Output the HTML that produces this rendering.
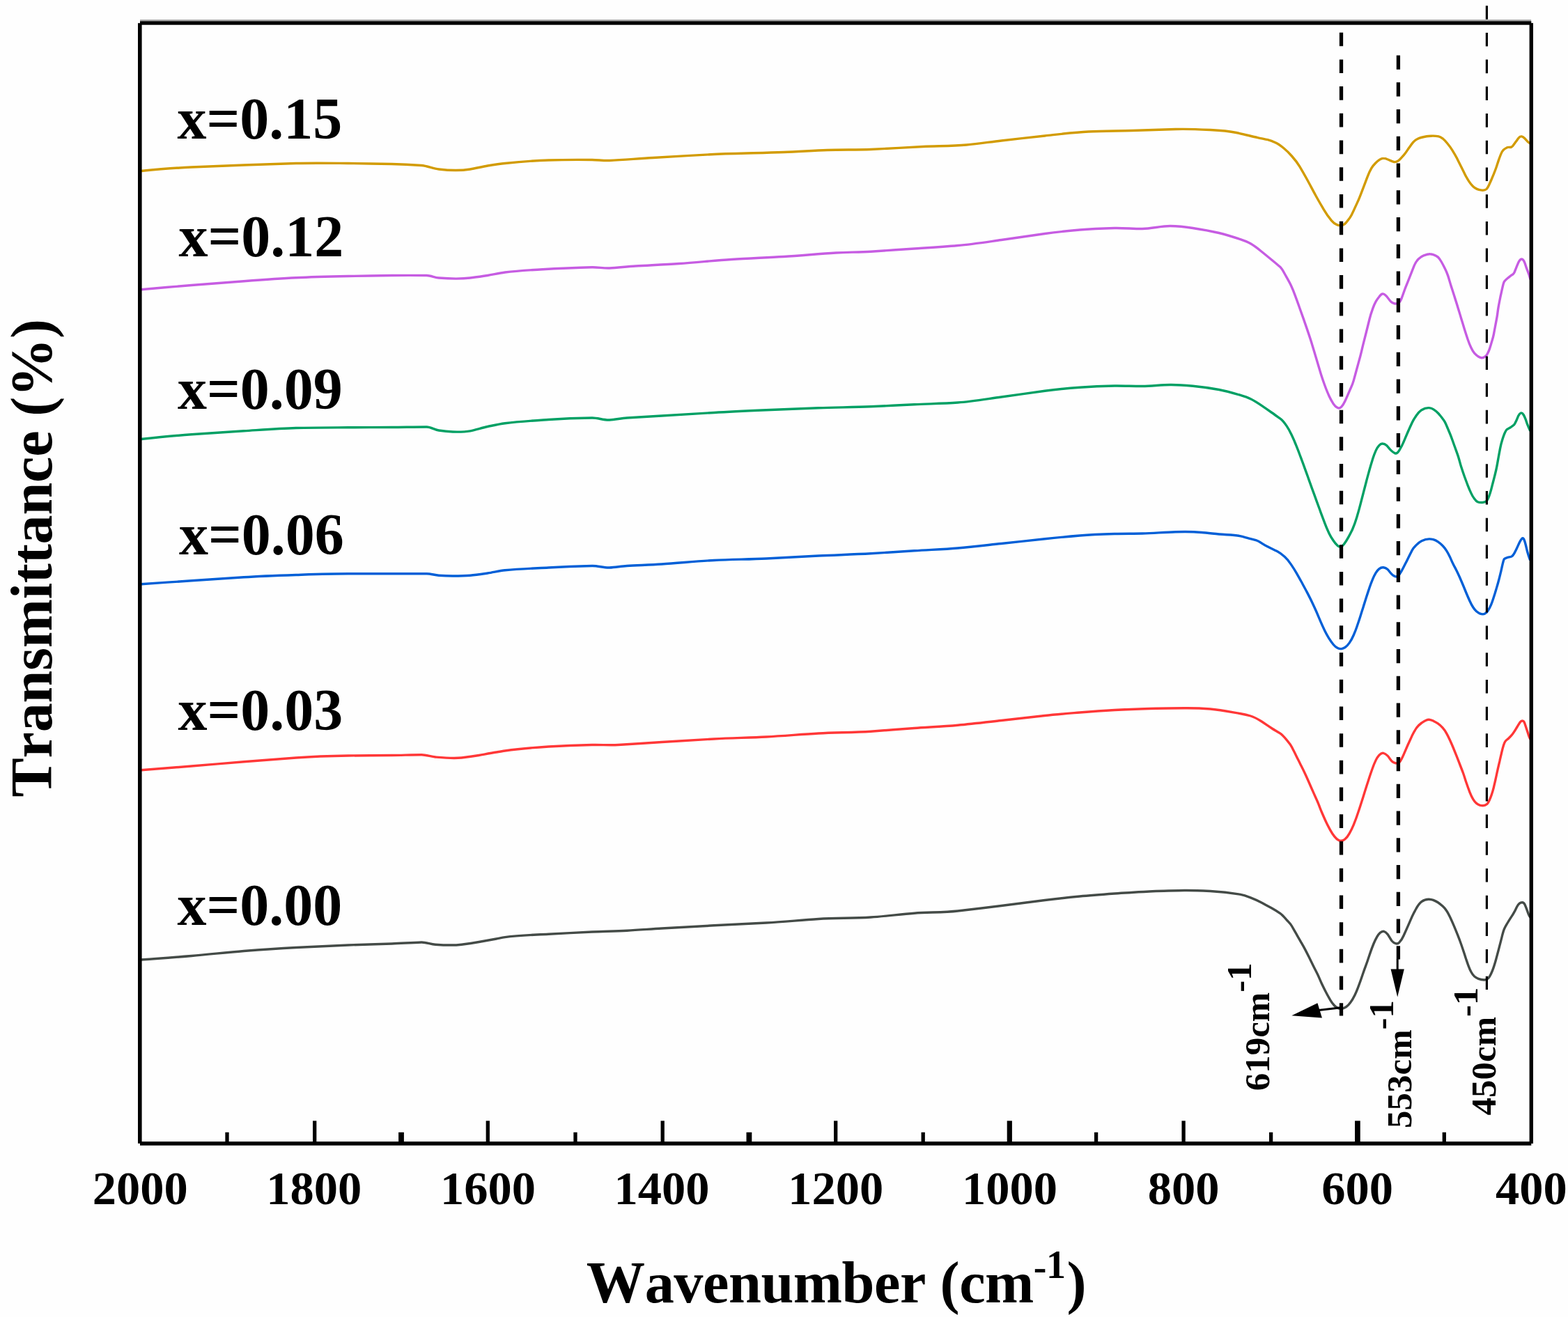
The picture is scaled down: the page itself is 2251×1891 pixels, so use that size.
<!DOCTYPE html>
<html lang="en"><head><meta charset="utf-8"><title>FTIR spectra</title>
<style>html,body{margin:0;padding:0;background:#fefefe;overflow:hidden;}svg{display:block;}text{font-family:"Liberation Serif",serif;font-weight:bold;fill:#000;font-kerning:none;}</style></head><body>
<svg width="2251" height="1891" viewBox="0 0 2251 1891">
<rect x="0" y="0" width="2251" height="1891" fill="#fefefe"/>
<path d="M202.5,245.5C226.7,243.2 250.8,241.1 275.0,240.0C300.0,238.9 325.0,237.9 350.0,237.0C375.0,236.1 400.0,235.1 425.0,234.5C450.0,233.9 475.0,234.3 500.0,234.5C520.8,234.7 541.7,235.1 562.5,235.5C576.7,235.8 590.8,236.5 605.0,237.5C613.3,238.1 621.7,242.0 630.0,243.0C645.0,244.8 660.0,245.4 675.0,243.0C683.3,241.7 691.7,239.3 700.0,238.0C708.3,236.7 716.7,235.4 725.0,234.5C745.8,232.3 766.7,230.7 787.5,230.0C808.3,229.3 829.2,229.3 850.0,229.5C858.3,229.6 866.7,230.9 875.0,230.5C895.8,229.4 916.7,227.7 937.5,226.5C966.7,224.8 995.8,222.9 1025.0,221.5C1058.3,219.8 1091.7,219.8 1125.0,218.5C1145.8,217.7 1166.7,216.3 1187.5,215.5C1208.3,214.7 1229.2,215.4 1250.0,214.5C1275.0,213.4 1300.0,211.7 1325.0,210.5C1345.8,209.5 1366.7,209.9 1387.5,208.0C1404.2,206.5 1420.8,203.9 1437.5,202.0C1458.3,199.6 1479.2,197.3 1500.0,195.0C1520.8,192.7 1541.7,190.0 1562.5,189.0C1583.3,188.0 1604.2,188.1 1625.0,187.5C1645.8,186.9 1666.7,186.1 1687.5,185.5C1704.2,185.0 1720.8,185.7 1737.5,186.5C1750.0,187.1 1762.5,187.9 1775.0,190.5C1785.1,192.6 1795.3,195.3 1805.4,197.6C1810.3,198.7 1815.1,199.6 1820.0,200.7C1823.8,201.6 1827.7,203.2 1831.5,205.1C1835.3,206.9 1839.1,209.7 1842.9,212.8C1846.7,215.9 1850.6,219.7 1854.4,224.0C1858.2,228.3 1862.0,232.8 1865.8,239.1C1869.6,245.5 1873.5,252.3 1877.3,259.3C1881.1,266.3 1884.9,273.6 1888.7,280.5C1892.5,287.5 1896.4,294.1 1900.2,300.6C1904.0,307.1 1907.8,312.3 1911.6,316.8C1914.3,320.0 1916.9,321.9 1919.6,322.9C1921.4,323.6 1923.2,323.8 1925.0,323.6C1926.8,323.4 1928.7,323.1 1930.5,321.6C1931.8,320.5 1933.2,318.9 1934.5,317.1C1936.4,314.7 1938.3,312.4 1940.2,308.7C1942.1,305.0 1944.1,300.7 1946.0,296.4C1947.9,292.2 1949.8,288.4 1951.7,283.6C1953.6,278.9 1955.5,273.8 1957.4,268.9C1959.3,263.9 1961.2,258.8 1963.1,253.8C1965.0,248.8 1967.0,244.6 1968.9,241.4C1970.8,238.2 1972.7,236.1 1974.6,234.2C1976.5,232.3 1978.4,230.7 1980.3,229.4C1982.2,228.2 1984.1,227.3 1986.0,227.4C1987.9,227.4 1989.9,227.8 1991.8,228.7C1993.0,229.2 1994.3,229.9 1995.5,230.4C1997.0,231.1 1998.5,231.6 2000.0,232.2C2002.3,233.0 2004.6,232.8 2006.9,231.2C2008.4,230.2 2010.0,228.6 2011.5,226.9C2013.4,224.9 2015.3,222.9 2017.2,220.3C2019.1,217.7 2021.0,214.7 2022.9,212.0C2024.8,209.4 2026.7,206.7 2028.6,204.4C2030.5,202.0 2032.5,200.7 2034.4,199.8C2036.3,198.8 2038.2,198.0 2040.1,197.5C2042.8,196.8 2045.4,196.2 2048.1,195.8C2050.9,195.4 2053.7,195.3 2056.5,195.1C2059.4,195.0 2062.4,195.3 2065.3,195.9C2067.2,196.3 2069.1,197.3 2071.0,198.8C2073.3,200.7 2075.6,203.2 2077.9,206.0C2080.2,208.8 2082.4,211.7 2084.7,215.3C2087.0,219.0 2089.3,222.8 2091.6,227.3C2093.5,231.1 2095.4,234.9 2097.3,238.7C2099.2,242.5 2101.2,246.5 2103.1,250.4C2105.0,254.2 2106.9,257.4 2108.8,260.4C2110.7,263.4 2112.6,265.6 2114.5,267.4C2116.4,269.2 2118.3,270.5 2120.2,271.4C2122.5,272.5 2124.8,272.8 2127.1,273.1C2129.4,273.4 2131.7,273.4 2134.0,271.5C2135.1,270.5 2136.3,268.5 2137.4,266.0C2138.5,263.6 2139.7,261.1 2140.8,258.5C2142.0,255.8 2143.1,253.0 2144.3,250.2C2145.4,247.4 2146.6,244.3 2147.7,241.2C2148.9,237.9 2150.0,234.1 2151.2,230.6C2152.3,227.3 2153.5,224.3 2154.6,221.5C2155.7,218.7 2156.9,216.7 2158.0,215.6C2159.9,213.8 2161.8,212.7 2163.7,211.8C2166.4,210.5 2169.1,213.0 2171.8,209.4C2172.9,207.8 2174.1,206.3 2175.2,204.8C2176.7,202.7 2178.3,200.6 2179.8,198.5C2181.3,196.4 2182.9,195.6 2184.4,195.9C2185.9,196.2 2187.4,197.3 2188.9,198.8C2190.4,200.3 2192.0,202.5 2193.5,203.8C2194.7,204.8 2195.8,205.6 2197.0,206.1" fill="none" stroke="#d29b00" stroke-width="3.4" stroke-linejoin="round" stroke-linecap="butt"/>
<path d="M202.5,415.8C226.7,413.6 250.8,411.5 275.0,409.5C300.0,407.5 325.0,405.6 350.0,403.8C375.0,401.9 400.0,400.0 425.0,398.8C450.0,397.5 475.0,397.0 500.0,396.5C520.8,396.1 541.7,395.8 562.5,395.5C579.2,395.3 595.8,395.3 612.5,395.5C618.3,395.6 624.2,398.5 630.0,399.0C645.0,400.2 660.0,400.8 675.0,399.0C683.3,398.0 691.7,396.9 700.0,395.5C708.3,394.1 716.7,392.1 725.0,391.0C741.7,388.9 758.3,388.0 775.0,387.0C800.0,385.5 825.0,384.3 850.0,383.8C858.3,383.6 866.7,385.4 875.0,385.0C887.5,384.3 900.0,382.7 912.5,382.0C933.3,380.8 954.2,379.9 975.0,378.5C1000.0,376.8 1025.0,374.1 1050.0,372.5C1075.0,370.9 1100.0,370.0 1125.0,368.5C1150.0,367.0 1175.0,364.5 1200.0,363.0C1216.7,362.0 1233.3,362.3 1250.0,361.2C1270.8,359.9 1291.7,358.4 1312.5,357.0C1333.3,355.6 1354.2,354.3 1375.0,352.5C1395.8,350.7 1416.7,347.4 1437.5,344.5C1458.3,341.6 1479.2,338.4 1500.0,335.5C1516.7,333.2 1533.3,331.5 1550.0,330.0C1566.7,328.5 1583.3,327.9 1600.0,327.5C1613.3,327.2 1626.7,328.6 1640.0,328.5C1653.3,328.4 1666.7,324.4 1680.0,324.5C1690.8,324.6 1701.7,325.8 1712.5,327.5C1725.0,329.4 1737.5,331.6 1750.0,334.5C1760.0,336.9 1770.0,340.1 1780.0,343.4C1785.1,345.1 1790.2,346.8 1795.3,349.8C1800.4,352.7 1805.4,356.6 1810.5,360.7C1815.6,364.8 1820.7,369.0 1825.8,373.2C1829.9,376.6 1833.9,379.9 1838.0,383.6C1840.5,385.9 1843.1,391.1 1845.6,395.5C1848.1,399.8 1850.7,404.2 1853.2,409.5C1855.2,413.8 1857.3,418.8 1859.3,424.4C1861.3,429.9 1863.4,435.5 1865.4,441.2C1867.4,447.0 1869.5,452.7 1871.5,458.4C1873.5,464.2 1875.6,470.1 1877.6,476.1C1879.6,482.0 1881.7,488.1 1883.7,494.9C1885.7,501.7 1887.8,508.5 1889.8,515.3C1891.8,522.1 1893.9,528.9 1895.9,535.7C1897.9,542.4 1900.0,548.1 1902.0,553.8C1904.0,559.5 1906.1,564.3 1908.1,568.8C1910.1,573.3 1912.2,576.7 1914.2,579.8C1916.2,582.9 1918.3,584.6 1920.3,585.6C1922.1,586.5 1923.9,586.2 1925.7,584.2C1927.5,582.2 1929.2,579.5 1931.0,575.7C1933.0,571.3 1935.1,566.6 1937.1,561.8C1939.1,557.0 1941.2,553.9 1943.2,546.6C1944.7,541.0 1946.3,535.4 1947.8,529.8C1949.3,524.2 1950.9,518.6 1952.4,513.0C1953.9,507.5 1955.4,500.7 1956.9,494.7C1958.4,488.6 1960.0,482.5 1961.5,476.5C1963.0,470.4 1964.6,464.1 1966.1,458.0C1967.6,451.9 1969.2,447.3 1970.7,443.1C1972.2,438.9 1973.7,435.5 1975.2,432.9C1976.7,430.2 1978.3,428.1 1979.8,426.2C1981.3,424.2 1982.9,422.4 1984.4,422.0C1986.4,421.4 1988.5,423.2 1990.5,425.3C1992.5,427.4 1994.6,431.2 1996.6,433.0C1998.1,434.4 1999.7,435.1 2001.2,435.6C2003.2,436.3 2005.3,436.1 2007.3,435.2C2008.8,434.5 2010.3,432.9 2011.8,429.1C2013.8,424.0 2015.9,417.5 2017.9,412.4C2019.9,407.3 2022.0,402.3 2024.0,397.2C2026.0,392.1 2028.1,386.8 2030.1,381.7C2032.1,376.7 2034.2,374.0 2036.2,372.1C2038.8,369.6 2041.3,367.8 2043.9,366.9C2046.9,365.8 2050.0,364.7 2053.0,364.8C2054.5,364.8 2056.1,365.2 2057.6,365.6C2059.8,366.3 2062.1,367.2 2064.3,369.1C2065.9,370.5 2067.4,372.8 2069.0,375.5C2070.6,378.2 2072.2,381.2 2073.8,384.5C2075.4,387.7 2077.0,390.8 2078.6,395.6C2080.2,400.4 2081.7,406.2 2083.3,411.1C2084.9,416.1 2086.5,421.0 2088.1,426.1C2089.7,431.1 2091.3,436.1 2092.9,441.4C2094.5,446.5 2096.0,451.7 2097.6,456.9C2099.2,462.2 2100.8,467.4 2102.4,472.7C2104.0,477.8 2105.5,482.5 2107.1,487.2C2108.7,492.0 2110.3,495.9 2111.9,499.3C2113.5,502.7 2115.1,505.3 2116.7,507.1C2118.6,509.2 2120.5,510.8 2122.4,512.0C2123.8,512.9 2125.3,513.5 2126.7,513.7C2128.8,514.1 2130.8,513.2 2132.9,511.3C2133.8,510.5 2134.8,509.1 2135.7,507.3C2136.7,505.4 2137.6,503.3 2138.6,500.4C2139.5,497.6 2140.5,494.3 2141.4,491.1C2142.4,487.8 2143.3,485.4 2144.3,480.3C2144.9,477.0 2145.6,473.6 2146.2,470.3C2147.1,465.3 2148.1,460.4 2149.0,455.4C2149.7,451.9 2150.3,445.4 2151.0,441.6C2151.9,436.3 2152.9,431.5 2153.8,427.0C2154.8,422.3 2155.7,418.0 2156.7,413.8C2157.6,409.8 2158.6,405.6 2159.5,404.3C2161.1,402.1 2162.7,400.8 2164.3,399.5C2165.9,398.2 2167.4,397.0 2169.0,395.7C2170.6,394.4 2172.2,394.6 2173.8,391.5C2174.8,389.6 2175.7,386.7 2176.7,384.3C2177.6,382.1 2178.6,379.8 2179.5,377.6C2180.3,375.6 2181.2,374.5 2182.0,373.4C2183.2,371.9 2184.3,371.6 2185.5,372.2C2186.7,372.9 2187.8,374.4 2189.0,377.6C2190.0,380.2 2190.9,383.6 2191.9,386.2C2192.9,388.8 2193.8,391.0 2194.8,393.8C2195.6,396.0 2196.3,398.6 2197.1,401.4" fill="none" stroke="#c65ce2" stroke-width="3.4" stroke-linejoin="round" stroke-linecap="butt"/>
<path d="M202.5,630.5C226.7,627.9 250.8,625.5 275.0,623.8C300.0,621.9 325.0,620.3 350.0,618.8C375.0,617.2 400.0,615.2 425.0,614.5C450.0,613.8 475.0,613.9 500.0,613.8C520.8,613.7 541.7,613.6 562.5,613.5C579.2,613.4 595.8,613.0 612.5,613.0C618.3,613.0 624.2,617.1 630.0,618.0C636.7,619.1 643.3,619.8 650.0,620.0C658.3,620.2 666.7,620.3 675.0,618.8C683.3,617.2 691.7,614.2 700.0,612.5C708.3,610.8 716.7,608.9 725.0,607.8C745.8,605.1 766.7,603.9 787.5,602.5C808.3,601.1 829.2,600.3 850.0,600.0C858.3,599.9 866.7,603.5 875.0,603.0C883.3,602.5 891.7,600.5 900.0,600.0C916.7,599.0 933.3,598.0 950.0,597.0C975.0,595.5 1000.0,594.0 1025.0,592.5C1050.0,591.0 1075.0,589.9 1100.0,588.8C1125.0,587.6 1150.0,586.6 1175.0,585.8C1200.0,584.9 1225.0,584.8 1250.0,583.8C1270.8,582.9 1291.7,581.7 1312.5,580.8C1333.3,579.8 1354.2,579.4 1375.0,578.0C1395.8,576.6 1416.7,572.8 1437.5,570.0C1458.3,567.2 1479.2,564.0 1500.0,561.2C1516.7,559.0 1533.3,557.5 1550.0,556.2C1566.7,555.0 1583.3,554.3 1600.0,554.0C1613.3,553.8 1626.7,554.6 1640.0,554.5C1653.3,554.4 1666.7,552.6 1680.0,552.5C1690.8,552.4 1701.7,553.2 1712.5,554.2C1725.0,555.4 1737.5,557.1 1750.0,559.5C1760.0,561.4 1770.0,564.3 1780.0,567.2C1785.1,568.7 1790.2,570.3 1795.3,572.8C1800.4,575.3 1805.4,578.5 1810.5,581.9C1815.6,585.4 1820.7,589.0 1825.8,592.5C1829.9,595.3 1833.9,598.2 1838.0,601.1C1841.0,603.2 1844.1,607.2 1847.1,611.6C1849.1,614.6 1851.2,618.2 1853.2,622.4C1855.2,626.6 1857.3,631.0 1859.3,636.0C1861.3,641.0 1863.4,646.1 1865.4,651.5C1867.4,656.9 1869.5,662.3 1871.5,667.9C1873.5,673.6 1875.6,679.2 1877.6,684.8C1879.6,690.5 1881.7,696.2 1883.7,701.8C1885.7,707.4 1887.8,713.0 1889.8,718.6C1891.8,724.1 1893.9,729.7 1895.9,735.3C1897.9,740.8 1900.0,746.3 1902.0,751.7C1904.0,757.2 1906.1,761.7 1908.1,765.9C1910.1,770.1 1912.2,773.3 1914.2,776.3C1916.2,779.4 1918.3,781.8 1920.3,783.6C1921.7,784.9 1923.2,785.4 1924.6,785.0C1926.2,784.6 1927.9,783.5 1929.5,781.3C1931.5,778.5 1933.6,775.2 1935.6,771.6C1937.6,768.0 1939.7,764.2 1941.7,759.7C1943.7,755.2 1945.8,749.6 1947.8,742.8C1949.3,737.6 1950.9,732.3 1952.4,726.4C1953.9,720.6 1955.4,714.8 1956.9,709.0C1958.4,703.0 1960.0,697.1 1961.5,691.2C1963.0,685.3 1964.6,679.8 1966.1,674.3C1967.6,668.7 1969.2,663.7 1970.7,658.8C1972.2,654.0 1973.7,650.2 1975.2,646.9C1976.7,643.5 1978.3,641.2 1979.8,639.6C1981.3,638.0 1982.9,637.0 1984.4,637.0C1986.4,637.0 1988.5,637.6 1990.5,639.5C1992.5,641.4 1994.6,644.4 1996.6,646.4C1998.6,648.4 2000.7,650.0 2002.7,650.8C2004.7,651.6 2006.8,649.9 2008.8,646.6C2010.8,643.3 2012.9,639.6 2014.9,634.9C2016.9,630.2 2019.0,625.2 2021.0,620.5C2023.0,615.9 2025.1,611.3 2027.1,607.0C2029.1,602.6 2031.2,599.6 2033.2,596.7C2035.7,593.1 2038.3,590.4 2040.8,588.7C2044.4,586.4 2047.9,585.4 2051.5,585.6C2053.5,585.8 2055.6,586.3 2057.6,587.6C2059.8,589.0 2062.1,590.6 2064.3,593.0C2065.9,594.6 2067.4,596.6 2069.0,598.5C2070.6,600.6 2072.2,602.5 2073.8,605.2C2075.4,608.0 2077.0,611.9 2078.6,615.7C2080.2,619.4 2081.7,622.8 2083.3,627.1C2084.9,631.6 2086.5,636.0 2088.1,640.5C2089.7,644.9 2091.3,649.4 2092.9,653.8C2094.5,658.2 2096.0,665.2 2097.6,670.0C2099.2,675.0 2100.8,679.7 2102.4,684.2C2104.0,688.6 2105.5,692.8 2107.1,696.8C2108.7,701.0 2110.3,704.7 2111.9,708.1C2113.5,711.6 2115.1,714.2 2116.7,716.3C2118.3,718.5 2119.8,720.1 2121.4,720.7C2123.6,721.6 2125.9,721.6 2128.1,721.5C2130.0,721.5 2131.9,721.1 2133.8,719.7C2135.1,718.7 2136.3,716.0 2137.6,712.6C2138.6,710.0 2139.5,707.3 2140.5,703.6C2141.4,700.0 2142.4,696.4 2143.3,692.8C2144.3,689.0 2145.2,685.3 2146.2,681.5C2147.1,677.9 2148.1,673.8 2149.0,668.9C2149.8,664.7 2150.6,659.9 2151.4,655.5C2152.2,651.2 2153.0,646.8 2153.8,642.8C2154.8,637.9 2155.7,634.8 2156.7,631.6C2157.6,628.5 2158.6,625.7 2159.5,623.4C2160.8,620.4 2162.0,617.6 2163.3,616.7C2165.2,615.2 2167.1,614.6 2169.0,613.3C2170.6,612.2 2172.2,611.3 2173.8,609.6C2174.8,608.6 2175.7,606.3 2176.7,604.2C2177.6,602.3 2178.6,599.6 2179.5,597.6C2180.8,595.0 2182.0,593.5 2183.3,593.0C2184.6,592.5 2185.8,593.4 2187.1,595.5C2188.1,597.1 2189.0,599.0 2190.0,601.6C2191.0,604.2 2191.9,607.5 2192.9,609.9C2194.2,613.1 2195.4,616.1 2196.7,618.6" fill="none" stroke="#00a064" stroke-width="3.4" stroke-linejoin="round" stroke-linecap="butt"/>
<path d="M202.5,838.8C226.7,837.1 250.8,835.4 275.0,833.8C300.0,832.0 325.0,830.4 350.0,828.8C375.0,827.1 400.0,826.3 425.0,825.5C450.0,824.7 475.0,823.8 500.0,823.8C520.8,823.8 541.7,823.8 562.5,823.8C579.2,823.8 595.8,823.8 612.5,823.8C618.3,823.8 624.2,825.8 630.0,826.2C636.7,826.7 643.3,827.0 650.0,827.0C658.3,827.0 666.7,827.0 675.0,826.2C683.3,825.5 691.7,824.2 700.0,823.0C708.3,821.8 716.7,819.6 725.0,818.8C745.8,816.7 766.7,816.1 787.5,815.0C808.3,813.9 829.2,813.1 850.0,812.5C858.3,812.3 866.7,815.4 875.0,815.0C883.3,814.6 891.7,813.0 900.0,812.5C916.7,811.6 933.3,811.0 950.0,810.0C975.0,808.4 1000.0,805.8 1025.0,804.5C1050.0,803.2 1075.0,803.2 1100.0,802.0C1125.0,800.8 1150.0,799.2 1175.0,798.0C1200.0,796.8 1225.0,796.2 1250.0,794.8C1270.8,793.6 1291.7,792.1 1312.5,790.8C1333.3,789.4 1354.2,788.8 1375.0,787.0C1395.8,785.2 1416.7,782.7 1437.5,780.5C1458.3,778.3 1479.2,776.0 1500.0,773.8C1516.7,772.0 1533.3,770.4 1550.0,769.0C1566.7,767.6 1583.3,767.0 1600.0,766.5C1613.3,766.1 1626.7,766.3 1640.0,766.0C1655.8,765.6 1671.7,764.2 1687.5,763.8C1700.0,763.4 1712.5,763.4 1725.0,764.5C1733.3,765.2 1741.7,766.2 1750.0,767.0C1760.0,768.0 1770.0,767.6 1780.0,769.6C1784.1,770.4 1788.1,771.7 1792.2,772.8C1795.8,773.7 1799.3,774.6 1802.9,775.7C1808.0,777.2 1813.0,781.5 1818.1,784.1C1823.2,786.8 1828.3,789.0 1833.4,791.6C1837.0,793.5 1840.5,796.1 1844.1,799.3C1847.1,802.0 1850.2,805.7 1853.2,810.1C1855.7,813.8 1858.3,817.7 1860.8,822.1C1863.4,826.6 1865.9,831.1 1868.5,835.8C1871.0,840.4 1873.6,845.1 1876.1,849.9C1878.6,854.7 1881.2,859.7 1883.7,865.0C1885.7,869.2 1887.8,873.7 1889.8,878.3C1891.8,882.9 1893.9,887.9 1895.9,892.6C1897.9,897.3 1900.0,901.8 1902.0,906.0C1904.0,910.2 1906.1,913.6 1908.1,916.9C1910.1,920.2 1912.2,923.1 1914.2,925.5C1916.2,927.9 1918.3,929.5 1920.3,930.5C1922.1,931.4 1923.9,931.7 1925.7,931.6C1927.5,931.4 1929.2,930.7 1931.0,929.5C1933.0,928.1 1935.1,926.0 1937.1,923.1C1939.1,920.2 1941.2,916.7 1943.2,912.0C1944.7,908.5 1946.3,904.6 1947.8,900.2C1949.3,895.7 1950.9,891.2 1952.4,886.4C1953.9,881.7 1955.4,876.9 1956.9,872.2C1958.4,867.3 1960.0,862.4 1961.5,857.6C1963.0,852.7 1964.6,848.1 1966.1,843.5C1967.6,838.9 1969.2,835.0 1970.7,831.3C1972.2,827.7 1973.7,824.9 1975.2,822.4C1976.7,819.8 1978.3,818.0 1979.8,816.8C1981.8,815.2 1983.9,814.6 1985.9,814.8C1987.9,815.1 1990.0,815.8 1992.0,817.6C1994.0,819.4 1996.1,822.7 1998.1,824.6C1999.6,826.1 2001.2,827.1 2002.7,827.7C2004.7,828.4 2006.8,828.0 2008.8,825.1C2010.8,822.2 2012.9,818.7 2014.9,814.6C2016.9,810.6 2019.0,806.5 2021.0,802.4C2023.0,798.3 2025.1,794.2 2027.1,790.2C2029.1,786.1 2031.2,784.6 2033.2,782.6C2035.7,780.1 2038.3,777.9 2040.8,776.7C2046.4,773.9 2052.0,773.1 2057.6,774.7C2059.8,775.3 2062.1,776.4 2064.3,777.9C2066.5,779.4 2068.8,781.2 2071.0,783.5C2072.9,785.4 2074.8,787.9 2076.7,790.9C2078.3,793.4 2079.8,796.3 2081.4,799.5C2083.0,802.9 2084.6,806.9 2086.2,810.1C2087.8,813.3 2089.4,816.0 2091.0,819.2C2092.6,822.4 2094.1,825.6 2095.7,829.2C2097.3,832.9 2098.9,836.7 2100.5,840.5C2102.1,844.3 2103.6,848.2 2105.2,852.0C2106.8,855.8 2108.4,859.5 2110.0,863.0C2111.6,866.6 2113.2,869.5 2114.8,872.0C2116.4,874.5 2117.9,876.3 2119.5,877.7C2121.1,879.1 2122.7,880.1 2124.3,880.9C2125.9,881.6 2127.4,881.9 2129.0,881.9C2130.6,881.9 2132.2,881.1 2133.8,879.6C2135.4,878.2 2137.0,875.8 2138.6,872.6C2139.9,870.1 2141.1,867.3 2142.4,863.5C2143.7,859.8 2144.9,855.9 2146.2,851.8C2147.1,848.7 2148.1,845.6 2149.0,842.4C2150.0,839.1 2150.9,835.6 2151.9,832.0C2152.9,828.4 2153.8,824.3 2154.8,820.3C2155.6,817.1 2156.3,813.4 2157.1,810.1C2157.9,806.7 2158.7,803.3 2159.5,802.6C2161.1,801.3 2162.7,800.9 2164.3,800.4C2166.2,799.8 2168.1,799.8 2170.0,799.0C2171.3,798.4 2172.5,796.9 2173.8,794.6C2175.1,792.3 2176.3,789.8 2177.6,787.1C2178.9,784.4 2180.1,781.4 2181.4,778.7C2182.4,776.7 2183.3,775.3 2184.3,774.0C2185.4,772.5 2186.5,772.1 2187.6,774.1C2188.4,775.5 2189.2,778.2 2190.0,781.2C2191.0,784.8 2191.9,789.6 2192.9,793.0C2194.2,797.4 2195.4,801.2 2196.7,804.3" fill="none" stroke="#005fd7" stroke-width="3.4" stroke-linejoin="round" stroke-linecap="butt"/>
<path d="M202.5,1105.8C226.7,1103.9 250.8,1102.0 275.0,1100.0C300.0,1098.0 325.0,1095.8 350.0,1093.8C375.0,1091.7 400.0,1089.8 425.0,1088.0C450.0,1086.2 475.0,1085.4 500.0,1085.0C520.8,1084.7 541.7,1084.7 562.5,1084.5C576.7,1084.4 590.8,1083.8 605.0,1083.8C611.7,1083.7 618.3,1086.4 625.0,1087.0C637.5,1088.1 650.0,1089.3 662.5,1088.0C670.8,1087.1 679.2,1086.0 687.5,1084.5C695.8,1083.0 704.2,1081.4 712.5,1080.0C716.7,1079.3 720.8,1078.6 725.0,1078.0C745.8,1075.0 766.7,1073.3 787.5,1072.0C808.3,1070.7 829.2,1069.9 850.0,1069.5C862.5,1069.2 875.0,1070.2 887.5,1069.5C908.3,1068.3 929.2,1066.8 950.0,1065.5C975.0,1064.0 1000.0,1062.4 1025.0,1061.0C1050.0,1059.6 1075.0,1059.3 1100.0,1058.0C1125.0,1056.7 1150.0,1054.4 1175.0,1053.0C1200.0,1051.6 1225.0,1051.9 1250.0,1050.2C1270.8,1048.8 1291.7,1047.0 1312.5,1045.5C1333.3,1044.0 1354.2,1043.2 1375.0,1041.2C1395.8,1039.3 1416.7,1036.8 1437.5,1034.5C1458.3,1032.2 1479.2,1029.8 1500.0,1027.5C1516.7,1025.7 1533.3,1024.4 1550.0,1023.0C1566.7,1021.6 1583.3,1020.4 1600.0,1019.5C1616.7,1018.6 1633.3,1018.0 1650.0,1017.5C1666.7,1017.0 1683.3,1016.9 1700.0,1016.8C1712.5,1016.7 1725.0,1017.0 1737.5,1018.0C1751.7,1019.1 1765.8,1022.0 1780.0,1024.5C1785.1,1025.4 1790.2,1026.4 1795.3,1028.0C1800.4,1029.6 1805.4,1032.3 1810.5,1035.5C1815.6,1038.8 1820.7,1042.4 1825.8,1045.7C1829.9,1048.4 1833.9,1050.5 1838.0,1053.2C1841.0,1055.2 1844.1,1058.9 1847.1,1062.4C1849.6,1065.4 1852.2,1067.9 1854.7,1073.0C1856.7,1077.1 1858.8,1081.1 1860.8,1085.2C1862.8,1089.3 1864.9,1093.3 1866.9,1097.4C1868.9,1101.4 1871.0,1105.5 1873.0,1109.8C1875.0,1114.0 1877.1,1118.7 1879.1,1123.3C1881.1,1127.9 1883.2,1132.5 1885.2,1137.2C1887.2,1141.8 1889.3,1146.2 1891.3,1150.8C1893.3,1155.4 1895.4,1161.2 1897.4,1166.0C1899.5,1170.9 1901.5,1175.5 1903.6,1180.0C1905.6,1184.3 1907.7,1188.2 1909.7,1191.9C1911.7,1195.6 1913.8,1198.6 1915.8,1201.1C1917.8,1203.7 1919.9,1205.4 1921.9,1206.5C1923.2,1207.2 1924.4,1207.4 1925.7,1207.3C1927.5,1207.1 1929.2,1206.3 1931.0,1204.7C1933.0,1203.0 1935.1,1200.4 1937.1,1196.8C1939.1,1193.3 1941.2,1189.2 1943.2,1184.3C1944.7,1180.5 1946.3,1176.6 1947.8,1172.2C1949.3,1167.8 1950.9,1163.4 1952.4,1158.6C1953.9,1153.9 1955.4,1149.2 1956.9,1144.4C1958.4,1139.6 1960.0,1134.6 1961.5,1129.8C1963.0,1124.9 1964.6,1120.3 1966.1,1115.6C1967.6,1110.9 1969.2,1106.5 1970.7,1102.2C1972.2,1097.9 1973.7,1094.6 1975.2,1091.4C1976.7,1088.2 1978.3,1086.0 1979.8,1084.3C1981.8,1082.1 1983.9,1080.9 1985.9,1081.3C1987.9,1081.7 1990.0,1083.1 1992.0,1085.1C1994.0,1087.2 1996.1,1090.9 1998.1,1092.9C1999.9,1094.6 2001.7,1095.4 2003.5,1095.7C2005.8,1096.2 2008.0,1096.3 2010.3,1092.8C2011.8,1090.5 2013.4,1087.4 2014.9,1083.9C2016.9,1079.2 2019.0,1074.4 2021.0,1069.8C2023.0,1065.2 2025.1,1060.8 2027.1,1056.4C2029.1,1052.0 2031.2,1048.5 2033.2,1045.6C2035.7,1041.9 2038.3,1039.8 2040.8,1038.0C2044.4,1035.5 2047.9,1032.9 2051.5,1033.2C2053.5,1033.4 2055.6,1034.1 2057.6,1035.1C2059.8,1036.2 2062.1,1037.3 2064.3,1038.8C2066.5,1040.3 2068.8,1042.4 2071.0,1044.9C2072.9,1047.0 2074.8,1049.7 2076.7,1053.1C2078.3,1055.9 2079.8,1059.0 2081.4,1062.5C2083.0,1066.0 2084.6,1069.6 2086.2,1073.5C2087.8,1077.4 2089.4,1081.4 2091.0,1085.4C2092.6,1089.4 2094.1,1093.5 2095.7,1097.5C2097.3,1101.6 2098.9,1105.7 2100.5,1110.0C2102.1,1114.3 2103.6,1119.7 2105.2,1124.3C2106.8,1129.0 2108.4,1133.4 2110.0,1137.6C2111.6,1141.7 2113.2,1144.9 2114.8,1147.6C2116.4,1150.2 2117.9,1152.2 2119.5,1153.4C2121.1,1154.7 2122.7,1155.6 2124.3,1156.1C2125.9,1156.6 2127.4,1156.7 2129.0,1156.7C2130.9,1156.7 2132.9,1156.1 2134.8,1154.5C2136.1,1153.4 2137.3,1150.9 2138.6,1148.0C2139.5,1145.9 2140.5,1143.5 2141.4,1140.7C2142.4,1137.8 2143.3,1134.8 2144.3,1130.8C2145.2,1127.0 2146.2,1122.9 2147.1,1118.6C2148.1,1114.3 2149.0,1109.5 2150.0,1105.3C2151.0,1101.1 2151.9,1096.9 2152.9,1092.8C2153.8,1088.7 2154.8,1084.7 2155.7,1080.6C2156.7,1076.4 2157.6,1072.9 2158.6,1069.8C2159.5,1066.8 2160.5,1064.8 2161.4,1063.9C2163.0,1062.3 2164.6,1061.3 2166.2,1059.7C2167.8,1058.0 2169.4,1056.6 2171.0,1054.5C2172.3,1052.9 2173.5,1051.0 2174.8,1049.0C2176.1,1046.9 2177.3,1044.7 2178.6,1042.7C2179.9,1040.6 2181.1,1038.7 2182.4,1036.8C2183.7,1034.9 2184.9,1034.7 2186.2,1035.1C2187.1,1035.3 2188.1,1036.1 2189.0,1038.9C2190.0,1041.8 2190.9,1044.8 2191.9,1047.8C2192.9,1050.8 2193.8,1053.9 2194.8,1056.8C2195.6,1059.2 2196.3,1060.3 2197.1,1061.4" fill="none" stroke="#ff3737" stroke-width="3.4" stroke-linejoin="round" stroke-linecap="butt"/>
<path d="M202.5,1378.0C226.7,1376.4 250.8,1374.5 275.0,1372.5C300.0,1370.4 325.0,1367.5 350.0,1365.5C375.0,1363.5 400.0,1361.8 425.0,1360.5C450.0,1359.2 475.0,1358.0 500.0,1357.0C520.8,1356.2 541.7,1355.7 562.5,1355.0C576.7,1354.5 590.8,1353.4 605.0,1353.0C611.7,1352.8 618.3,1355.8 625.0,1356.2C637.5,1357.1 650.0,1357.8 662.5,1356.2C670.8,1355.2 679.2,1354.0 687.5,1352.5C695.8,1351.0 704.2,1349.5 712.5,1348.0C716.7,1347.2 720.8,1346.2 725.0,1345.6C745.8,1342.6 766.7,1342.4 787.5,1341.2C808.3,1340.1 829.2,1339.0 850.0,1338.0C866.7,1337.2 883.3,1337.2 900.0,1336.2C916.7,1335.3 933.3,1334.0 950.0,1333.0C975.0,1331.5 1000.0,1330.1 1025.0,1328.8C1050.0,1327.4 1075.0,1326.3 1100.0,1325.0C1125.0,1323.7 1150.0,1321.0 1175.0,1319.5C1200.0,1318.0 1225.0,1318.6 1250.0,1317.0C1270.8,1315.7 1291.7,1312.8 1312.5,1311.2C1333.3,1309.7 1354.2,1310.3 1375.0,1308.0C1395.8,1305.7 1416.7,1303.1 1437.5,1300.5C1458.3,1297.9 1479.2,1295.1 1500.0,1292.5C1516.7,1290.4 1533.3,1288.6 1550.0,1287.0C1566.7,1285.4 1583.3,1284.2 1600.0,1283.0C1616.7,1281.8 1633.3,1280.9 1650.0,1280.0C1666.7,1279.1 1683.3,1278.8 1700.0,1278.5C1712.5,1278.3 1725.0,1278.9 1737.5,1279.5C1751.7,1280.2 1765.8,1281.7 1780.0,1284.2C1785.1,1285.1 1790.2,1286.8 1795.3,1288.8C1800.4,1290.8 1805.4,1293.0 1810.5,1295.7C1815.6,1298.3 1820.7,1301.2 1825.8,1304.1C1829.9,1306.4 1833.9,1308.8 1838.0,1311.7C1841.0,1313.8 1844.1,1317.5 1847.1,1320.8C1849.6,1323.6 1852.2,1325.7 1854.7,1330.0C1856.7,1333.5 1858.8,1337.2 1860.8,1340.7C1862.8,1344.2 1864.9,1347.7 1866.9,1351.3C1868.9,1354.8 1871.0,1358.3 1873.0,1362.1C1875.0,1365.8 1877.1,1370.0 1879.1,1374.1C1881.1,1378.2 1883.2,1382.4 1885.2,1386.5C1887.2,1390.6 1889.3,1394.5 1891.3,1398.6C1893.3,1402.7 1895.4,1408.0 1897.4,1412.3C1899.5,1416.7 1901.5,1420.8 1903.6,1424.8C1905.6,1428.8 1907.7,1432.3 1909.7,1435.8C1911.7,1439.2 1913.8,1441.9 1915.8,1444.0C1917.8,1446.1 1919.9,1447.3 1921.9,1447.9C1923.4,1448.4 1924.9,1448.5 1926.4,1448.3C1928.4,1448.0 1930.5,1447.1 1932.5,1445.8C1934.5,1444.5 1936.6,1442.4 1938.6,1439.6C1940.6,1436.9 1942.7,1433.5 1944.7,1429.3C1946.2,1426.1 1947.8,1422.7 1949.3,1418.6C1950.8,1414.6 1952.4,1410.4 1953.9,1406.0C1955.4,1401.6 1957.0,1397.0 1958.5,1392.6C1960.0,1388.4 1961.5,1384.5 1963.0,1380.2C1964.5,1375.9 1966.1,1371.0 1967.6,1366.6C1969.1,1362.2 1970.7,1358.2 1972.2,1354.5C1973.7,1350.7 1975.3,1347.8 1976.8,1345.1C1978.3,1342.5 1979.8,1340.7 1981.3,1339.3C1983.1,1337.7 1984.9,1336.9 1986.7,1337.3C1988.5,1337.7 1990.2,1339.2 1992.0,1341.4C1994.0,1343.8 1996.1,1348.6 1998.1,1351.0C1999.9,1353.1 2001.7,1354.2 2003.5,1354.7C2005.3,1355.2 2007.0,1355.0 2008.8,1353.2C2010.8,1351.1 2012.9,1348.1 2014.9,1343.7C2016.9,1339.2 2019.0,1334.7 2021.0,1330.1C2023.0,1325.5 2025.1,1320.7 2027.1,1316.1C2029.1,1311.5 2031.2,1307.9 2033.2,1304.4C2035.7,1299.9 2038.3,1296.6 2040.8,1294.7C2044.4,1292.1 2047.9,1291.1 2051.5,1291.3C2053.5,1291.4 2055.6,1291.7 2057.6,1292.4C2059.8,1293.3 2062.1,1294.3 2064.3,1295.7C2066.5,1297.1 2068.8,1299.1 2071.0,1301.1C2072.9,1302.8 2074.8,1304.8 2076.7,1307.7C2078.3,1310.0 2079.8,1313.0 2081.4,1316.3C2083.0,1319.7 2084.6,1323.2 2086.2,1326.9C2087.8,1330.6 2089.4,1334.5 2091.0,1338.4C2092.6,1342.3 2094.1,1346.3 2095.7,1350.5C2097.3,1354.8 2098.9,1359.4 2100.5,1364.2C2101.8,1368.0 2103.0,1372.1 2104.3,1376.0C2105.6,1379.8 2106.8,1383.4 2108.1,1386.9C2109.4,1390.4 2110.6,1393.2 2111.9,1395.5C2113.5,1398.5 2115.1,1400.7 2116.7,1402.0C2118.6,1403.6 2120.5,1404.7 2122.4,1405.4C2125.3,1406.5 2128.1,1406.9 2131.0,1407.0C2132.9,1407.0 2134.8,1406.2 2136.7,1404.5C2138.0,1403.3 2139.2,1401.1 2140.5,1398.3C2141.6,1395.9 2142.7,1393.3 2143.8,1390.1C2144.8,1387.2 2145.7,1384.3 2146.7,1380.9C2147.6,1377.6 2148.6,1374.3 2149.5,1370.7C2150.5,1367.0 2151.4,1363.4 2152.4,1359.6C2153.2,1356.5 2154.0,1353.4 2154.8,1350.3C2155.6,1347.3 2156.3,1344.3 2157.1,1341.3C2157.9,1338.2 2158.7,1335.5 2159.5,1333.8C2160.8,1331.0 2162.0,1328.8 2163.3,1326.7C2164.6,1324.6 2165.8,1322.4 2167.1,1320.4C2168.4,1318.3 2169.7,1316.5 2171.0,1314.4C2172.3,1312.4 2173.5,1310.1 2174.8,1307.9C2175.9,1305.9 2177.0,1303.3 2178.1,1301.3C2179.2,1299.3 2180.3,1298.1 2181.4,1297.1C2182.7,1296.0 2183.9,1295.8 2185.2,1295.8C2186.5,1295.8 2187.7,1296.1 2189.0,1298.7C2189.8,1300.4 2190.6,1302.5 2191.4,1304.6C2192.4,1307.2 2193.3,1310.3 2194.3,1312.7C2195.2,1315.1 2196.2,1316.4 2197.1,1317.4" fill="none" stroke="#444b47" stroke-width="3.4" stroke-linejoin="round" stroke-linecap="butt"/>
<line x1="1925.5" y1="46.7" x2="1925.5" y2="1458.6" stroke="#000" stroke-width="5.3" stroke-dasharray="19.6 19.11"/>
<line x1="2007.4" y1="79.5" x2="2007.4" y2="1377.5" stroke="#000" stroke-width="5.3" stroke-dasharray="20.3 18.45"/>
<line x1="2134.4" y1="8.2" x2="2134.4" y2="1421" stroke="#000" stroke-width="3.2" stroke-dasharray="19.6 19.11"/>
<line x1="2006.2" y1="1377" x2="2006.2" y2="1395" stroke="#000" stroke-width="3"/>
<polygon points="1996.6,1391.4 2015.8,1391.4 2006.2,1431.6" fill="#000"/>
<line x1="1925" y1="1446.8" x2="1893" y2="1450.6" stroke="#000" stroke-width="3"/>
<polygon points="1891.4,1440.3 1897.9,1461.4 1854.3,1458.3" fill="#000"/>
<rect x="201" y="28.1" width="1997.1" height="2.6" fill="#a6a6a6"/>
<rect x="201" y="30.4" width="1997.3" height="5.3" fill="#000"/>
<rect x="201" y="1639.1" width="1997.3" height="5.6" fill="#000"/>
<rect x="198" y="33.2" width="5.6" height="1608.6" fill="#000"/>
<rect x="2195.6" y="33.1" width="5.4" height="1608.8" fill="#000"/>
<line x1="2073.3" y1="1625.8" x2="2073.3" y2="1641.7" stroke="#000" stroke-width="5.3"/>
<line x1="1948.9" y1="1609.3" x2="1948.9" y2="1641.7" stroke="#000" stroke-width="7.7"/>
<line x1="1824.6" y1="1625.8" x2="1824.6" y2="1641.7" stroke="#000" stroke-width="5.3"/>
<line x1="1699.1" y1="1609.3" x2="1699.1" y2="1641.7" stroke="#000" stroke-width="5.3"/>
<line x1="1573.6" y1="1625.8" x2="1573.6" y2="1641.7" stroke="#000" stroke-width="5.3"/>
<line x1="1449.3" y1="1609.3" x2="1449.3" y2="1641.7" stroke="#000" stroke-width="7.2"/>
<line x1="1325.2" y1="1625.8" x2="1325.2" y2="1641.7" stroke="#000" stroke-width="5.3"/>
<line x1="1199.7" y1="1609.3" x2="1199.7" y2="1641.7" stroke="#000" stroke-width="5.3"/>
<line x1="1075.4" y1="1625.8" x2="1075.4" y2="1641.7" stroke="#000" stroke-width="7.8"/>
<line x1="951.2" y1="1609.3" x2="951.2" y2="1641.7" stroke="#000" stroke-width="5.3"/>
<line x1="826.0" y1="1625.8" x2="826.0" y2="1641.7" stroke="#000" stroke-width="5.3"/>
<line x1="700.3" y1="1609.3" x2="700.3" y2="1641.7" stroke="#000" stroke-width="5.3"/>
<line x1="576.0" y1="1625.8" x2="576.0" y2="1641.7" stroke="#000" stroke-width="7.8"/>
<line x1="451.7" y1="1609.3" x2="451.7" y2="1641.7" stroke="#000" stroke-width="5.3"/>
<line x1="326.0" y1="1625.8" x2="326.0" y2="1641.7" stroke="#000" stroke-width="5.3"/>
<text x="2198.3" y="1728.5" font-size="68.5" text-anchor="middle">400</text>
<text x="1948.7" y="1728.5" font-size="68.5" text-anchor="middle">600</text>
<text x="1699.0" y="1728.5" font-size="68.5" text-anchor="middle">800</text>
<text x="1449.4" y="1728.5" font-size="68.5" text-anchor="middle">1000</text>
<text x="1199.8" y="1728.5" font-size="68.5" text-anchor="middle">1200</text>
<text x="950.1" y="1728.5" font-size="68.5" text-anchor="middle">1400</text>
<text x="700.5" y="1728.5" font-size="68.5" text-anchor="middle">1600</text>
<text x="450.8" y="1728.5" font-size="68.5" text-anchor="middle">1800</text>
<text x="201.2" y="1728.5" font-size="68.5" text-anchor="middle">2000</text>
<text x="841.8" y="1870.2" font-size="84.3" letter-spacing="-0.46">Wavenumber (cm<tspan font-size="56" dy="-32.5">-</tspan><tspan font-size="56" dy="-3">1</tspan><tspan dy="35.5" dx="2">)</tspan></text>
<text transform="translate(73.5,1144.5) rotate(-90)" font-size="84.3" letter-spacing="-0.25">Transmittance (%)</text>
<text x="254.5" y="198.8" font-size="84">x=0.15</text>
<text x="256.5" y="368.3" font-size="84">x=0.12</text>
<text x="255" y="587" font-size="84">x=0.09</text>
<text x="257" y="795.8" font-size="84">x=0.06</text>
<text x="255.5" y="1047.5" font-size="84">x=0.03</text>
<text x="254.5" y="1327.5" font-size="84">x=0.00</text>
<text transform="translate(1822,1566.3) rotate(-90)" font-size="51">619cm<tspan dy="-26.5">-1</tspan></text>
<text transform="translate(2026.4,1620) rotate(-90)" font-size="51">553cm<tspan dy="-26.5">-1</tspan></text>
<text transform="translate(2147,1601.5) rotate(-90)" font-size="51">450cm<tspan dy="-26.5">-1</tspan></text>
</svg></body></html>
